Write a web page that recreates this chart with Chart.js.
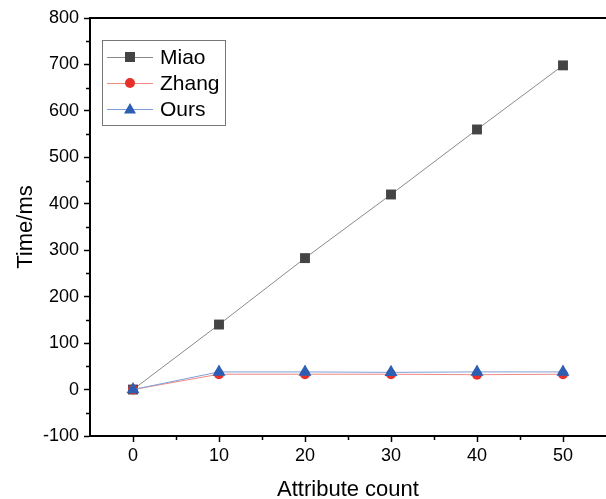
<!DOCTYPE html>
<html><head><meta charset="utf-8">
<script src="https://cdn.jsdelivr.net/npm/chart.js@4"></script>
<style>html,body{margin:0;padding:0;background:#fff;overflow:hidden}canvas{display:block}</style>
</head><body>
<canvas id="c" width="606" height="499"></canvas>
<script>
const attributeCounts = [0, 10, 20, 30, 40, 50];
const miao  = [0, 140, 283, 420, 560, 698];
const zhang = [0, 33, 33, 33, 32, 33];
const ours  = [0, 38, 38, 37, 38, 38];
const xTicks = [0, 10, 20, 30, 40, 50];
const xMinor = [5, 15, 25, 35, 45];
const yTicks = [-100, 0, 100, 200, 300, 400, 500, 600, 700, 800];
const yMinor = [-50, 50, 150, 250, 350, 450, 550, 650, 750];

const pts = arr => arr.map((v, i) => ({x: attributeCounts[i], y: v}));
const FONT = "'Liberation Sans', Arial, sans-serif";

const extras = {
  id: 'extras',
  afterDraw(chart) {
    const {ctx, chartArea: a, scales: {x, y}} = chart;
    ctx.save();
    ctx.strokeStyle = '#000';
    ctx.lineWidth = 2;
    ctx.beginPath();
    ctx.moveTo(a.left - 1, a.top); ctx.lineTo(a.right, a.top);
    ctx.stroke();
    ctx.lineWidth = 1.5;
    ctx.beginPath();
    yMinor.forEach(v => { const p = Math.round(y.getPixelForValue(v)) + 0.5; ctx.moveTo(a.left - 4, p); ctx.lineTo(a.left, p); });
    xMinor.forEach(v => { const p = Math.round(x.getPixelForValue(v)) + 0.5; ctx.moveTo(p, a.bottom); ctx.lineTo(p, a.bottom + 4); });
    ctx.stroke();
    // legend
    const lx = 102, ly = 40, lw = 123, lh = 85;
    ctx.fillStyle = '#fff';
    ctx.fillRect(lx, ly, lw, lh);
    ctx.strokeStyle = '#777';
    ctx.lineWidth = 1;
    ctx.strokeRect(lx + 0.5, ly + 0.5, lw, lh);
    const rows = [57, 83, 109];
    chart.data.datasets.forEach((ds, i) => {
      const ry = rows[i];
      ctx.strokeStyle = ds.borderColor;
      ctx.lineWidth = 1;
      ctx.beginPath(); ctx.moveTo(107, ry + 0.5); ctx.lineTo(153, ry + 0.5); ctx.stroke();
      ctx.fillStyle = ds.pointBackgroundColor;
      const cx = 130;
      ctx.beginPath();
      if (ds.pointStyle === 'rect') ctx.rect(cx - 5, ry - 5, 10, 10);
      else if (ds.pointStyle === 'circle') ctx.arc(cx, ry, 5, 0, Math.PI * 2);
      else { ctx.moveTo(cx, ry - 6); ctx.lineTo(cx + 6, ry + 4.5); ctx.lineTo(cx - 6, ry + 4.5); ctx.closePath(); }
      ctx.fill();
      ctx.fillStyle = '#000';
      ctx.font = '21px ' + FONT;
      ctx.textBaseline = 'middle';
      ctx.textAlign = 'left';
      ctx.fillText(ds.label, 160, ry + 1);
    });
    ctx.restore();
  }
};

new Chart(document.getElementById('c'), {
  type: 'line',
  data: {
    datasets: [
      {label: 'Miao', data: pts(miao), borderColor: '#8a8a8a', borderWidth: 1, pointStyle: 'rect', pointRadius: 7, pointBackgroundColor: '#444444', pointBorderColor: '#444444', pointBorderWidth: 0, order: 2},
      {label: 'Zhang', data: pts(zhang), borderColor: '#f08a80', borderWidth: 1, pointStyle: 'circle', pointRadius: 5, pointBackgroundColor: '#e8302a', pointBorderColor: '#e8302a', pointBorderWidth: 0, order: 1},
      {label: 'Ours', data: pts(ours), borderColor: '#7f9fd8', borderWidth: 1, pointStyle: 'triangle', pointRadius: 7.5, pointBackgroundColor: '#2c5fb4', pointBorderColor: '#2c5fb4', pointBorderWidth: 0, order: 0}
    ]
  },
  options: {
    responsive: false,
    animation: false,
    layout: {autoPadding: false, padding: {top: 18, right: 0, left: 0, bottom: 0}},
    plugins: {legend: {display: false}, tooltip: {enabled: false}},
    scales: {
      x: {
        type: 'linear', min: -5, max: 55,
        afterBuildTicks: s => { s.ticks = xTicks.map(v => ({value: v})); },
        afterFit: s => { s.height = 63; },
        grid: {drawOnChartArea: false, tickLength: 6, tickWidth: 1.5, tickColor: '#000'},
        border: {display: true, color: '#000', width: 2},
        ticks: {color: '#000', font: {family: FONT, size: 18}, padding: 3, maxRotation: 0},
        title: {display: true, text: 'Attribute count', color: '#000', font: {family: FONT, size: 22}, padding: {top: 0, bottom: -4}}
      },
      y: {
        type: 'linear', min: -100, max: 800,
        afterBuildTicks: s => { s.ticks = yTicks.map(v => ({value: v})); },
        afterFit: s => { s.width = 90; },
        grid: {drawOnChartArea: false, tickLength: 6, tickWidth: 1.5, tickColor: '#000'},
        border: {display: true, color: '#000', width: 2},
        ticks: {color: '#000', font: {family: FONT, size: 18}, padding: 5},
        title: {display: true, text: 'Time/ms', color: '#000', font: {family: FONT, size: 22}, padding: {top: 13, bottom: 4}}
      }
    }
  },
  plugins: [extras]
});
</script>
</body></html>
